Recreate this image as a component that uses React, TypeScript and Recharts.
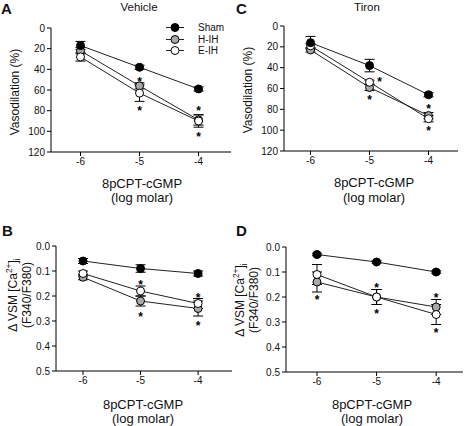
import { ComposedChart, ErrorBar, Line, Scatter, XAxis, YAxis } from "recharts";

const FONT = '"Liberation Sans", Arial, sans-serif';

const doses = [-6, -5, -4];

// A: vehicle, vasodilation (%)
const vehSham = [17, 38, 59];
const vehShamErr = [4, 2, 2];
const vehHIH = [22, 56, 89];
const vehHIHErr = [3, 3, 5];
const vehEIH = [28, 63, 90];
const vehEIHErr = [4, 8, 6];
const vehStars = [
  { x: -5, y: 49 },
  { x: -5, y: 77 },
  { x: -4, y: 77 },
  { x: -4, y: 103 },
];

// C: tiron, vasodilation (%)
const tirSham = [16, 38, 66];
const tirShamErr = [6, 6, 2];
const tirHIH = [23, 59, 86];
const tirHIHErr = [2, 3, 3];
const tirEIH = [19, 54, 89];
const tirEIHErr = [2, 2, 3];
const tirStars = [
  { x: -4.83, y: 51 },
  { x: -5, y: 68 },
  { x: -4, y: 77 },
  { x: -4, y: 98 },
];

// B: vehicle, delta VSM [Ca2+]i
const caVehSham = [0.06, 0.09, 0.11];
const caVehShamErr = [0.01, 0.015, 0.01];
const caVehHIH = [0.125, 0.22, 0.25];
const caVehHIHErr = [0.01, 0.02, 0.03];
const caVehEIH = [0.11, 0.18, 0.23];
const caVehEIHErr = [0.01, 0.02, 0.02];
const caVehStars = [
  { x: -5, y: 0.145 },
  { x: -5, y: 0.272 },
  { x: -4, y: 0.195 },
  { x: -4, y: 0.308 },
];

// D: tiron, delta VSM [Ca2+]i
const caTirSham = [0.03, 0.06, 0.1];
const caTirShamErr = [0.005, 0.005, 0.005];
const caTirHIH = [0.14, 0.2, 0.24];
const caTirHIHErr = [0.04, 0.03, 0.03];
const caTirEIH = [0.11, 0.2, 0.27];
const caTirEIHErr = [0.04, 0.03, 0.04];
const caTirStars = [
  { x: -6, y: 0.2 },
  { x: -5, y: 0.15 },
  { x: -5, y: 0.257 },
  { x: -4, y: 0.19 },
  { x: -4, y: 0.333 },
];

const vasoTicks = [0, 20, 40, 60, 80, 100, 120];
const caTicks = [0, 0.1, 0.2, 0.3, 0.4, 0.5];

const buildRows = (
  sham: number[], shamErr: number[],
  hih: number[], hihErr: number[],
  eih: number[], eihErr: number[]
) =>
  doses.map((x, i) => ({
    x,
    sham: sham[i], shamErr: shamErr[i],
    hih: hih[i], hihErr: hihErr[i],
    eih: eih[i], eihErr: eihErr[i],
  }));

const starShape = (p: any) => (
  <text
    x={p.cx}
    y={p.cy + 7}
    textAnchor="middle"
    fontSize={12}
    fontWeight="bold"
    fontFamily={FONT}
    fill="#000"
  >
    *
  </text>
);

type PanelProps = {
  left: number;
  top: number;
  width: number;
  height: number;
  plotL: number;
  plotR: number;
  plotT: number;
  plotB: number;
  xDomain: [number, number];
  yDomain: [number, number];
  yTicks: number[];
  fmt?: (v: number) => string;
  rows: any[];
  stars: { x: number; y: number }[];
};

const tickStyle = { fontSize: 10, fill: "#111", fontFamily: FONT };

const Panel = (p: PanelProps) => {
  const xh = 20;
  return (
    <div style={{ position: "absolute", left: p.left, top: p.top }}>
      <ComposedChart
        width={p.width}
        height={p.height}
        data={p.rows}
        margin={{
          top: p.plotT,
          left: 0,
          right: p.width - p.plotR,
          bottom: p.height - p.plotB - xh,
        }}
      >
        <XAxis
          dataKey="x"
          type="number"
          domain={p.xDomain}
          ticks={doses}
          allowDataOverflow
          height={xh}
          tick={tickStyle}
          tickSize={4}
          axisLine={{ stroke: "#000" }}
          tickLine={{ stroke: "#000" }}
        />
        <YAxis
          type="number"
          reversed
          domain={p.yDomain}
          ticks={p.yTicks}
          width={p.plotL}
          tick={tickStyle}
          tickFormatter={p.fmt}
          tickSize={4}
          axisLine={{ stroke: "#000" }}
          tickLine={{ stroke: "#000" }}
        />
        <Line
          dataKey="hih"
          stroke="#222"
          strokeWidth={1}
          dot={{ r: 4, fill: "#a8a8a8", stroke: "#000", strokeWidth: 1 }}
          isAnimationActive={false}
        >
          <ErrorBar dataKey="hihErr" width={5} stroke="#000" strokeWidth={1} direction="y" />
        </Line>
        <Line
          dataKey="eih"
          stroke="#222"
          strokeWidth={1}
          dot={{ r: 4, fill: "#fff", stroke: "#000", strokeWidth: 1 }}
          isAnimationActive={false}
        >
          <ErrorBar dataKey="eihErr" width={5} stroke="#000" strokeWidth={1} direction="y" />
        </Line>
        <Line
          dataKey="sham"
          stroke="#222"
          strokeWidth={1}
          dot={{ r: 4, fill: "#000", stroke: "#000", strokeWidth: 1 }}
          isAnimationActive={false}
        >
          <ErrorBar dataKey="shamErr" width={5} stroke="#000" strokeWidth={1} direction="y" />
        </Line>
        <Scatter data={p.stars} dataKey="y" shape={starShape} isAnimationActive={false} />
      </ComposedChart>
    </div>
  );
};

const txt = (
  left: number,
  top: number,
  content: React.ReactNode,
  size: number,
  extra: React.CSSProperties = {}
) => (
  <div
    style={{
      position: "absolute",
      left,
      top,
      fontSize: size,
      fontFamily: FONT,
      color: "#111",
      whiteSpace: "nowrap",
      lineHeight: 1,
      ...extra,
    }}
  >
    {content}
  </div>
);

const centered = (cx: number, cy: number, content: React.ReactNode, size: number, extra: React.CSSProperties = {}) =>
  txt(cx, cy, content, size, { transform: "translate(-50%, -50%)", ...extra });

const rotated = (cx: number, cy: number, content: React.ReactNode, size: number) =>
  txt(cx, cy, content, size, { transform: "translate(-50%, -50%) rotate(-90deg)" });

const caLabel = (
  <span>
    Δ VSM [Ca<sup style={{ fontSize: "0.7em" }}>2+</sup>]<sub style={{ fontSize: "0.7em" }}>i</sub>
  </span>
);

const legendItems = [
  { name: "Sham", fill: "#000" },
  { name: "H-IH", fill: "#a8a8a8" },
  { name: "E-IH", fill: "#fff" },
];

const LegendBox = () => (
  <div style={{ position: "absolute", left: 164, top: 22 }}>
    {legendItems.map((it) => (
      <div key={it.name} style={{ display: "flex", alignItems: "center", height: 11.5 }}>
        <svg width={22} height={11}>
          <line x1={2} x2={20} y1={5.5} y2={5.5} stroke="#222" />
          <circle cx={11} cy={5.5} r={4} fill={it.fill} stroke="#000" />
        </svg>
        <span style={{ fontFamily: FONT, fontSize: 10, marginLeft: 12, color: "#111" }}>{it.name}</span>
      </div>
    ))}
  </div>
);

const fmt1 = (v: number) => v.toFixed(1);

export default function App() {
  return (
    <div style={{ position: "absolute", left: 0, top: 0, width: 467, height: 426, background: "#fff" }}>
      <Panel
        left={0} top={0} width={234} height={213}
        plotL={51} plotR={231} plotT={28} plotB={152}
        xDomain={[-6.5, -3.45]} yDomain={[0, 120]} yTicks={vasoTicks}
        rows={buildRows(vehSham, vehShamErr, vehHIH, vehHIHErr, vehEIH, vehEIHErr)}
        stars={vehStars}
      />
      <Panel
        left={234} top={0} width={233} height={213}
        plotL={50} plotR={224} plotT={26} plotB={151}
        xDomain={[-6.45, -3.5]} yDomain={[0, 120]} yTicks={vasoTicks}
        rows={buildRows(tirSham, tirShamErr, tirHIH, tirHIHErr, tirEIH, tirEIHErr)}
        stars={tirStars}
      />
      <Panel
        left={0} top={213} width={234} height={213}
        plotL={56} plotR={232} plotT={33} plotB={158}
        xDomain={[-6.47, -3.41]} yDomain={[0, 0.5]} yTicks={caTicks} fmt={fmt1}
        rows={buildRows(caVehSham, caVehShamErr, caVehHIH, caVehHIHErr, caVehEIH, caVehEIHErr)}
        stars={caVehStars}
      />
      <Panel
        left={234} top={213} width={233} height={213}
        plotL={52} plotR={229} plotT={34} plotB={159}
        xDomain={[-6.52, -3.55]} yDomain={[0, 0.5]} yTicks={caTicks} fmt={fmt1}
        rows={buildRows(caTirSham, caTirShamErr, caTirHIH, caTirHIHErr, caTirEIH, caTirEIHErr)}
        stars={caTirStars}
      />

      {txt(1, 1, "A", 15, { fontWeight: "bold" })}
      {txt(236, 1, "C", 15, { fontWeight: "bold" })}
      {txt(2, 223, "B", 15, { fontWeight: "bold" })}
      {txt(236, 223, "D", 15, { fontWeight: "bold" })}

      {centered(139, 8, "Vehicle", 11.5)}
      {centered(367, 8, "Tiron", 11.5)}

      <LegendBox />

      {rotated(15, 92, "Vasodilation (%)", 12)}
      {rotated(248, 90, "Vasodilation (%)", 12)}
      {rotated(13, 295, caLabel, 12)}
      {rotated(27, 295, "(F340/F380)", 12)}
      {rotated(240, 300, caLabel, 12)}
      {rotated(254, 300, "(F340/F380)", 12)}

      {centered(142, 183, "8pCPT-cGMP", 13)}
      {centered(142, 197, "(log molar)", 13)}
      {centered(374, 182, "8pCPT-cGMP", 13)}
      {centered(374, 197, "(log molar)", 13)}
      {centered(143, 404, "8pCPT-cGMP", 13)}
      {centered(143, 418, "(log molar)", 13)}
      {centered(372, 404, "8pCPT-cGMP", 13)}
      {centered(372, 418, "(log molar)", 13)}
    </div>
  );
}
